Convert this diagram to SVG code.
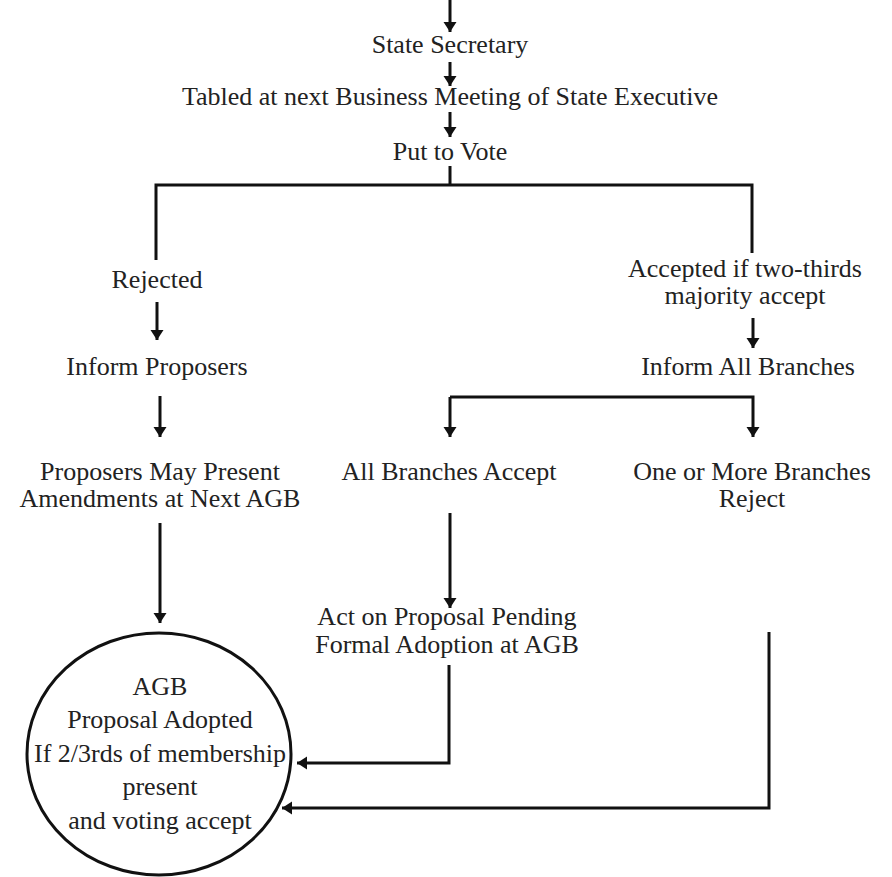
<svg xmlns="http://www.w3.org/2000/svg" width="892" height="877" viewBox="0 0 892 877">
<style>
text{font-family:"Liberation Serif","Times New Roman",serif;font-size:26px;fill:#222;text-anchor:middle}
.c{fill:none;stroke:#111;stroke-width:3}
.a{marker-end:url(#ah)}
</style>
<defs>
<marker id="ah" markerUnits="userSpaceOnUse" markerWidth="12" markerHeight="14" viewBox="0 -7 11 14" refX="10" refY="0" orient="auto">
<path d="M0,-6.5 L10,0 L0,6.5 z" fill="#111"/>
</marker>
</defs>
<rect width="892" height="877" fill="#fff"/>
<g id="connectors">
<path class="c a" d="M450,0 V32"/>
<path class="c a" d="M450,62 V86"/>
<path class="c a" d="M450,112 V137"/>
<path class="c" d="M450,166 V185"/>
<path class="c" d="M156,260 V185 H752 V253"/>
<path class="c a" d="M157,302 V340"/>
<path class="c a" d="M160,396 V437"/>
<path class="c a" d="M160,523 V623"/>
<path class="c a" d="M753,318 V348"/>
<path class="c a" d="M450,397 H753 V437"/>
<path class="c a" d="M450,397 V437"/>
<path class="c a" d="M450,513 V608"/>
<path class="c a" d="M449,665 V763 H297"/>
<path class="c a" d="M769,632 V808 H282"/>
</g>
<g id="state-secretary"><text x="450" y="53">State Secretary</text></g>
<g id="tabled"><text x="450" y="105">Tabled at next Business Meeting of State Executive</text></g>
<g id="vote"><text x="450" y="160">Put to Vote</text></g>
<g id="rejected"><text x="157" y="288">Rejected</text></g>
<g id="accepted"><text x="745" y="277">Accepted if two-thirds</text><text x="745" y="304">majority accept</text></g>
<g id="inform-proposers"><text x="157" y="375">Inform Proposers</text></g>
<g id="inform-branches"><text x="748" y="375">Inform All Branches</text></g>
<g id="proposers-amend"><text x="160" y="480">Proposers May Present</text><text x="160" y="507">Amendments at Next AGB</text></g>
<g id="all-accept"><text x="449" y="480">All Branches Accept</text></g>
<g id="some-reject"><text x="752" y="480">One or More Branches</text><text x="752" y="507">Reject</text></g>
<g id="act-pending"><text x="447" y="625">Act on Proposal Pending</text><text x="447" y="653">Formal Adoption at AGB</text></g>
<g id="agb">
<ellipse cx="159" cy="754" rx="132" ry="121" fill="#fff" stroke="#111" stroke-width="3"/>
<text x="160" y="695">AGB</text>
<text x="160" y="728">Proposal Adopted</text>
<text x="160" y="762">If 2/3rds of membership</text>
<text x="160" y="795">present</text>
<text x="160" y="829">and voting accept</text>
</g>
</svg>
